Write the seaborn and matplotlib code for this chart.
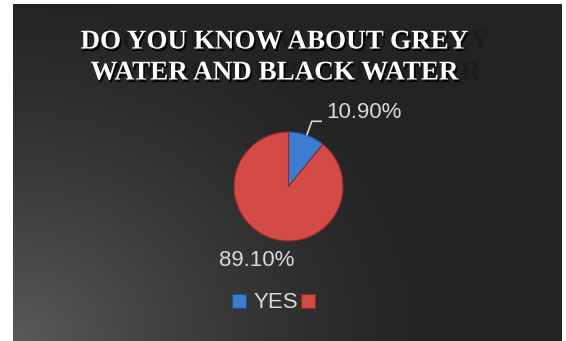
import numpy as np
import matplotlib
matplotlib.use("Agg")
import matplotlib.pyplot as plt
import matplotlib.patheffects as pe
from matplotlib.lines import Line2D
from matplotlib.font_manager import FontProperties
import seaborn as sns

# ---- data ----
categories = ["YES", "NO"]
values = [10.90, 89.10]
value_labels = ["10.90%", "89.10%"]
legend_labels = ["YES", ""]
title_lines = ["DO YOU KNOW ABOUT GREY", "WATER AND BLACK WATER"]

sns.set_style("white")
plt.rcParams["font.family"] = ["Liberation Sans", "DejaVu Sans"]

colors = ["#3D7DD0", "#D34A46"]
edge_colors = ["#1f4f8f", "#8f2a27"]

W, H = 566, 341
fig = plt.figure(figsize=(W / 100, H / 100), dpi=100)
fig.patch.set_facecolor("white")

# background panel with gradient
bg = fig.add_axes([13 / W, 0, (562 - 13) / W, (341 - 4) / H])
bg.set_axis_off()
ny, nx = 337, 549
yy, xx = np.mgrid[0:ny, 0:nx]
d = np.sqrt((xx / 1.0) ** 2 + ((ny - yy) * 1.2) ** 2)
t = np.clip(1 - d / 440, 0, 1) ** 1.4
g = (0x23 + (0x5a - 0x23) * t) / 255
img = np.dstack([g, g, g])
bg.imshow(img, aspect="auto", extent=(0, 1, 0, 1), origin="upper")
bg.set_xlim(0, 1)
bg.set_ylim(0, 1)

# pie axes covering the whole figure, 54.5 px per data unit
cx, cy, R = 288.5, 186.5, 54.5
ax = fig.add_axes([0, 0, 1, 1])
ax.patch.set_alpha(0)
wedges, _ = ax.pie(values, colors=colors, startangle=90, counterclock=False,
                   radius=1, wedgeprops=dict(linewidth=0.8))
for w, ec in zip(wedges, edge_colors):
    w.set_edgecolor(ec)
ax.set_aspect("auto")
ax.set_xlim(-cx / R, (W - cx) / R)
ax.set_ylim((cy - H) / R, cy / R)
ax.set_axis_off()

# leader line for the small slice
ang = np.deg2rad(90 - values[0] / 100 * 360 / 2)
p0 = np.array([np.cos(ang), np.sin(ang)])
p1 = 1.27 * p0
ax.plot([p0[0], p1[0], (322 - cx) / R], [p0[1], p1[1], p1[1]],
        color="#d9d9d9", lw=1.2, solid_capstyle="butt")

lab_col = "#d9d9d9"
ax.text((364 - cx) / R, (cy - 112) / R, value_labels[0], color=lab_col,
        fontsize=16, ha="center", va="center")
ax.text((257 - cx) / R, (cy - 261) / R, value_labels[1], color=lab_col,
        fontsize=16, ha="center", va="center")

# title with ghost shadow and drop shadow
tfp = FontProperties(family=["Liberation Serif", "DejaVu Serif"], weight="bold", size=19.5)
for line, ypx in zip(title_lines, [42, 73]):
    fig.text(275 / W, 1 - ypx / H, line, color="white", ha="center", va="center",
             fontproperties=tfp,
             path_effects=[pe.SimplePatchShadow(offset=(15.8, 0), shadow_rgbFace="#1c1c1c",
                                                alpha=1.0),
                           pe.SimplePatchShadow(offset=(1.2, -1.8), shadow_rgbFace="black",
                                                alpha=0.9),
                           pe.Normal()])

# legend
handles = [Line2D([], [], marker="s", linestyle="none", markersize=10,
                  markerfacecolor=c, markeredgecolor=ec, markeredgewidth=0.8)
           for c, ec in zip(colors, edge_colors)]
leg = fig.legend(handles, legend_labels, loc="center left", ncol=2,
                 bbox_to_anchor=(230 / W, 1 - 303 / H), frameon=False,
                 fontsize=16, handlelength=0.8, handletextpad=0.25,
                 columnspacing=0.05, borderpad=0, borderaxespad=0)
for t_ in leg.get_texts():
    t_.set_color(lab_col)

fig.savefig("out.png", dpi=100, facecolor="white")
